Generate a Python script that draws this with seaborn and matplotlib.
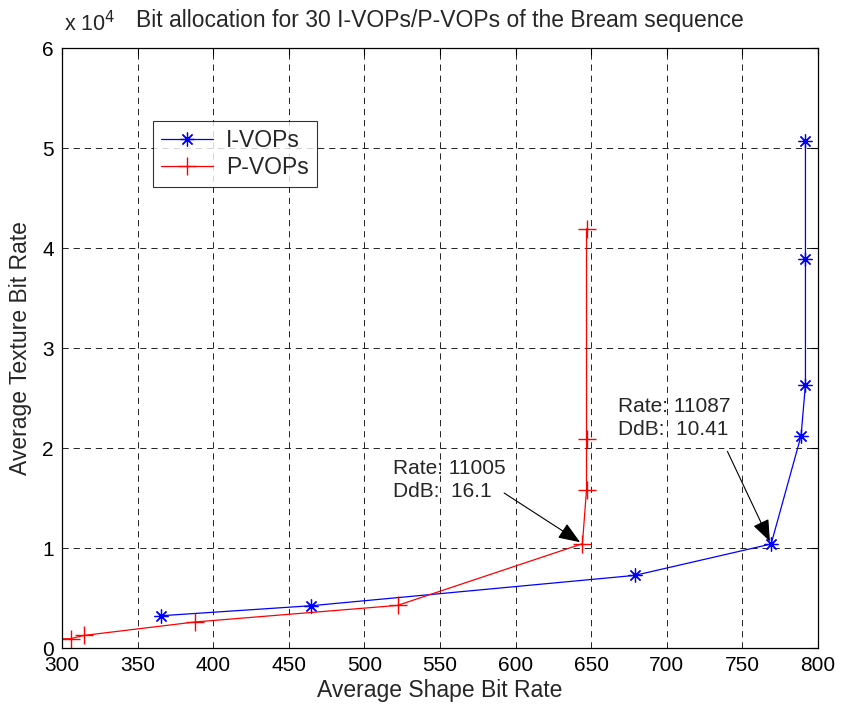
import matplotlib
matplotlib.use("Agg")
import matplotlib.pyplot as plt
import seaborn as sns
import pandas as pd
from matplotlib.ticker import FuncFormatter, MultipleLocator

# ---- data ----
i_vop_shape = [365.8, 465.0, 678.8, 769.0, 788.8, 791.7, 791.7, 791.7]
i_vop_texture = [3230, 4230, 7260, 10400, 21230, 26330, 38930, 50700]

p_vop_shape = [290.0, 305.7, 314.6, 387.8, 521.9, 644.2, 646.9, 646.9, 646.9]
p_vop_texture = [900, 930, 1260, 2600, 4260, 10430, 15830, 20900, 41930]

series_names = ["I-VOPs", "P-VOPs"]
title = "Bit allocation for 30 I-VOPs/P-VOPs of the Bream sequence"
x_label = "Average Shape Bit Rate"
y_label = "Average Texture Bit Rate"

annot_i = ("Rate: 11087\nDdB:  10.41", (769.0, 10400), (740.1, 19660), (667.8, 25060))
annot_p = ("Rate: 11005\nDdB:  16.1", (644.2, 10430), (592.4, 15500), (518.6, 18900))

df_i = pd.DataFrame({"shape": i_vop_shape, "texture": i_vop_texture})
df_p = pd.DataFrame({"shape": p_vop_shape, "texture": p_vop_texture})

sns.set_style("white")
plt.rcParams["font.family"] = ["Liberation Sans", "DejaVu Sans"]
plt.rcParams["lines.scale_dashes"] = False

fig = plt.figure(figsize=(8.44, 7.10), dpi=100)
ax = fig.add_axes([62 / 844, 1 - 648 / 710, 756 / 844, 600 / 710])

FS = 15
FL = 16.5
star = (8, 2, 0)
sns.lineplot(data=df_i, x="shape", y="texture", ax=ax, sort=False, estimator=None,
             color="#0000ff", lw=0.9, marker=star, markersize=10,
             markeredgecolor="#0000ff", markeredgewidth=0.9, label=series_names[0])
sns.lineplot(data=df_p, x="shape", y="texture", ax=ax, sort=False, estimator=None,
             color="#ff0000", lw=0.9, marker="+", markersize=13,
             markeredgecolor="#ff0000", markeredgewidth=1.0, label=series_names[1])

ax.set_xlim(300, 800)
ax.set_ylim(0, 60000)
ax.xaxis.set_major_locator(MultipleLocator(50))
ax.yaxis.set_major_locator(MultipleLocator(10000))
ax.yaxis.set_major_formatter(FuncFormatter(lambda v, p: f"{v/1e4:g}"))
ax.grid(True, color="black", linestyle=(0, (4.5, 3.5)), linewidth=0.6)
ax.set_axisbelow(True)
for s in ax.spines.values():
    s.set_visible(True)
    s.set_color("black")
    s.set_linewidth(0.9)
ax.tick_params(direction="in", length=5, width=0.8, top=True, right=True,
               labelsize=FS, colors="black", pad=6)

ax.set_xlabel(x_label, fontsize=FL, labelpad=3)
ax.set_ylabel(y_label, fontsize=FL, labelpad=7)
ax.set_title(title, fontsize=FL, pad=15, x=0.5)
ax.text(0.003, 1.02, r"x 10$^4$", transform=ax.transAxes, fontsize=FS + 0.5,
        ha="left", va="bottom")

for txt, tip, tail, tpos in (annot_i, annot_p):
    ax.annotate("", xy=tip, xytext=tail,
                arrowprops=dict(arrowstyle="-|>,head_length=0.9,head_width=0.35",
                                color="black", lw=0.8, shrinkA=0, shrinkB=2,
                                mutation_scale=15))
    ax.text(tpos[0], tpos[1], txt, fontsize=FS, ha="left", va="top",
            linespacing=1.25)

leg = ax.legend(loc="upper left", bbox_to_anchor=(0.12, 0.879), fontsize=FL,
                frameon=True, fancybox=False, edgecolor="black",
                borderpad=0.35, handlelength=2.3, labelspacing=0.2,
                handletextpad=0.55, borderaxespad=0)
leg.get_frame().set_linewidth(0.8)

fig.savefig("out.png", dpi=100)
